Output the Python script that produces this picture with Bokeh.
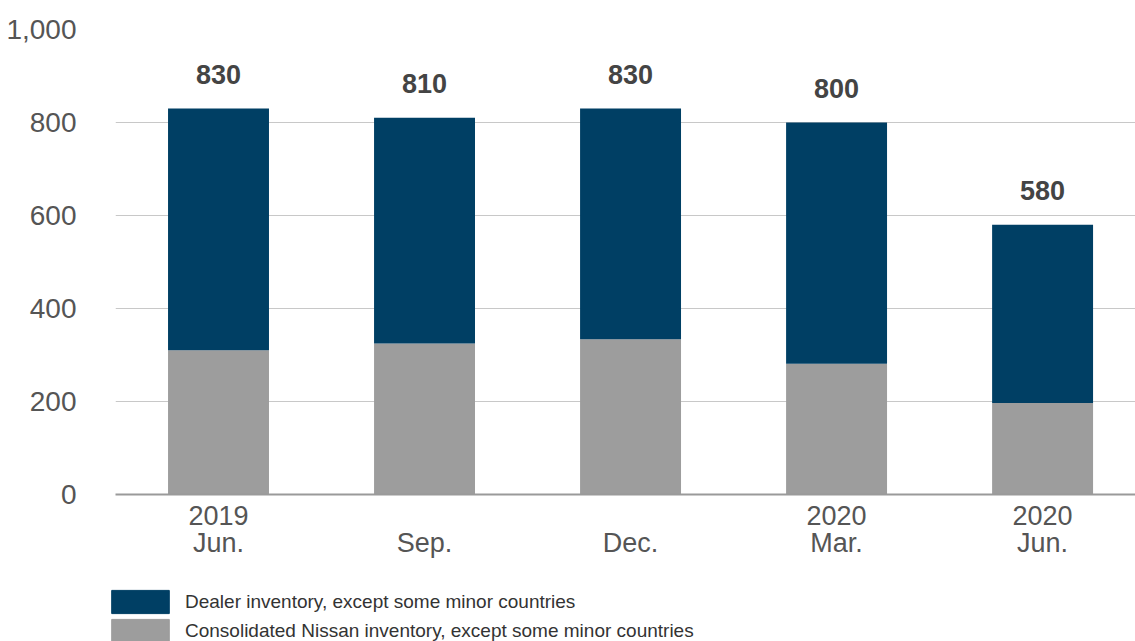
from bokeh.plotting import figure
from bokeh.layouts import column
from bokeh.models import (ColumnDataSource, Range1d, FixedTicker, NumeralTickFormatter,
                          LabelSet, Legend, LegendItem)
from bokeh.core.properties import value
from bokeh.embed import file_html
from bokeh.resources import INLINE

# Inventory (thousand units) at each period end
periods = ["2019\nJun.", "\u00a0\nSep.", "\u00a0\nDec.", "2020\nMar.", "2020\nJun."]
totals = [830, 810, 830, 800, 580]
consolidated = [310, 325, 334, 281, 197]
dealer = [t - c for t, c in zip(totals, consolidated)]
y_ticks = [0, 200, 400, 600, 800, 1000]
series_names = ["Dealer inventory, except some minor countries",
                "Consolidated Nissan inventory, except some minor countries"]

NAVY = "#003f64"
GREY = "#9d9d9d"
FONT = "Liberation Sans"

xs = list(range(len(periods)))
src = ColumnDataSource(dict(
    x=xs,
    cons=consolidated,
    dealer=dealer,
    total=totals,
    label=[str(t) for t in totals],
))

p = figure(width=1135, height=585, output_backend="svg", toolbar_location=None,
           x_range=Range1d(-0.5, 4.451), y_range=Range1d(0, 1000),
           min_border_left=115, min_border_right=0, min_border_top=29,
           min_border_bottom=91)
p.outline_line_color = None

bars = p.vbar_stack(["cons", "dealer"], x="x", width=0.49, source=src,
                    color=[GREY, NAVY], line_color=None)

labels = LabelSet(x="x", y="total", text="label", source=src, text_align="center",
                  text_baseline="alphabetic", y_offset=25, text_font=value(FONT),
                  text_font_size="27px", text_font_style="bold", text_color="#444444")
p.add_layout(labels)

# y axis
p.yaxis.ticker = FixedTicker(ticks=y_ticks)
p.yaxis.formatter = NumeralTickFormatter(format="0,0")
p.yaxis.axis_line_color = None
p.yaxis.major_tick_line_color = None
p.yaxis.minor_tick_line_color = None
p.yaxis.major_label_standoff = 33
p.yaxis.major_label_text_font = FONT
p.yaxis.major_label_text_font_size = "28px"
p.yaxis.major_label_text_color = "#555555"

# x axis
p.xaxis.ticker = FixedTicker(ticks=xs)
p.xaxis.major_label_overrides = {i: lab for i, lab in zip(xs, periods)}
p.xaxis.axis_line_color = "#9a9a9a"
p.xaxis.axis_line_width = 2
p.xaxis.major_tick_line_color = None
p.xaxis.minor_tick_line_color = None
p.xaxis.major_label_standoff = 0
p.xaxis.major_label_text_font = FONT
p.xaxis.major_label_text_font_size = "27px"
p.xaxis.major_label_text_color = "#555555"
p.xaxis.major_label_text_line_height = 0.9

p.xgrid.grid_line_color = None
p.ygrid.ticker = FixedTicker(ticks=y_ticks)
p.ygrid.grid_line_color = "#c8c8c8"
p.ygrid.grid_line_width = 1

# legend strip under the chart
lg = figure(width=1135, height=56, output_backend="svg", toolbar_location=None,
            x_range=Range1d(0, 1), y_range=Range1d(0, 1),
            min_border=0, outline_line_color=None)
lg.frame_align = False
lg.axis.visible = False
lg.grid.visible = False
key_navy = lg.vbar(x=[-10], top=[-10], width=0.1, color=NAVY)
key_grey = lg.vbar(x=[-10], top=[-10], width=0.1, color=GREY)
legend = Legend(items=[
    LegendItem(label=series_names[0], renderers=[key_navy]),
    LegendItem(label=series_names[1], renderers=[key_grey]),
], location=(104, -4), orientation="vertical", glyph_width=72, glyph_height=29,
    label_height=29, label_standoff=9, spacing=0, padding=0, margin=0,
    border_line_color=None, background_fill_alpha=0,
    label_text_font=FONT, label_text_font_size="19px", label_text_color="#333333")
lg.add_layout(legend, "center")

layout = column(p, lg, spacing=0)
open("out.html", "w").write(file_html(layout, INLINE))
